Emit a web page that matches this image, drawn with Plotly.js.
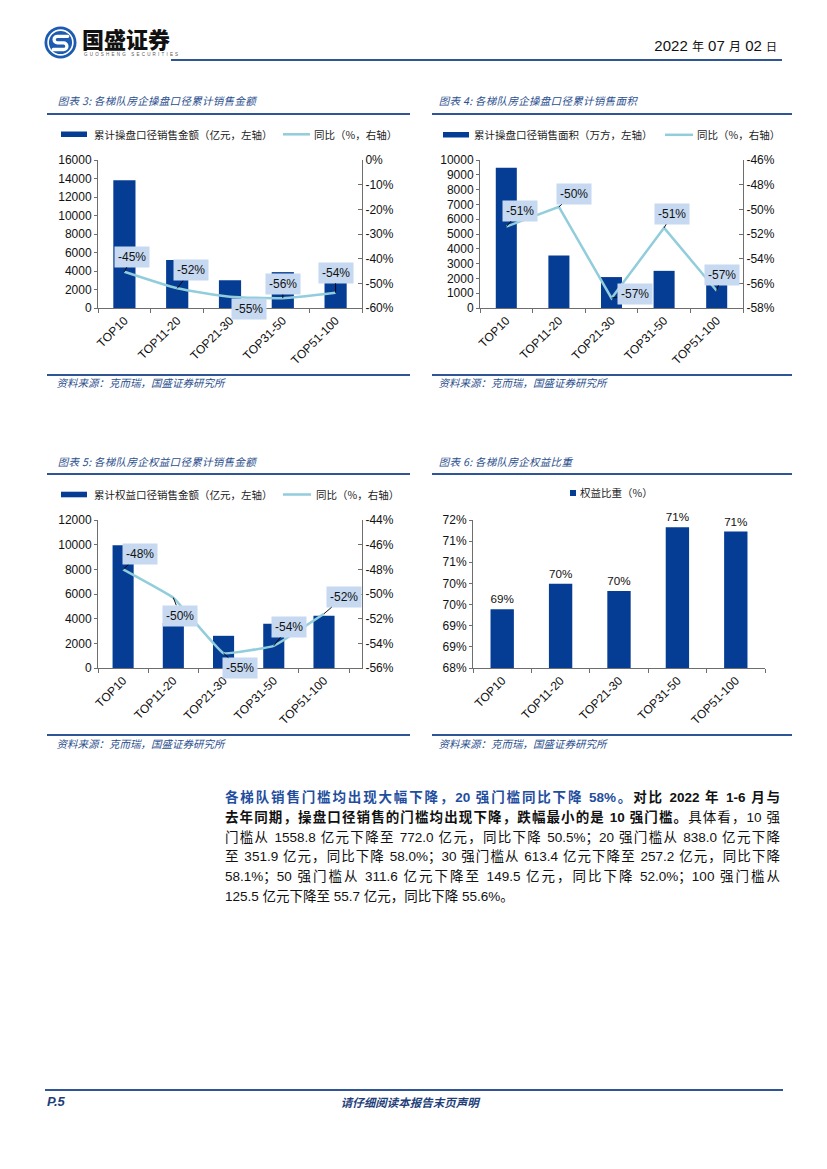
<!DOCTYPE html>
<html><head><meta charset="utf-8">
<script src="https://cdn.plot.ly/plotly-3.0.1.min.js"></script>
<style>
body{margin:0;width:827px;height:1169px;position:relative;background:#fff;overflow:hidden;font-family:"Liberation Sans","Noto Sans CJK SC",sans-serif;}
.abs{position:absolute;}
.ttl{position:absolute;font-family:"Noto Sans CJK SC";font-size:10.5px;line-height:14px;color:#2b4f8e;white-space:nowrap;transform:skewX(-14deg);transform-origin:left bottom;letter-spacing:0.3px;}
.src{position:absolute;font-family:"Noto Sans CJK SC";font-size:10.5px;line-height:13px;color:#2b4f8e;white-space:nowrap;transform:skewX(-14deg);transform-origin:left bottom;}
.hl{position:absolute;height:2px;background:#2f5597;}
.chart{position:absolute;width:370px;height:250px;}
.para{position:absolute;left:225px;top:788px;width:555px;font-size:13.5px;line-height:19.8px;color:#111;font-family:"Liberation Sans","Noto Sans CJK SC";}
.para .ln{text-align:justify;text-align-last:justify;white-space:nowrap;height:19.8px;}
.para .ln.last{text-align-last:left;}
.para b{font-weight:700;}
.blue{color:#1f4e9e;font-weight:700;}
.sk{display:inline-block;transform:skewX(-14deg);}
</style>
</head><body>

<!-- header -->
<svg class="abs" style="left:44px;top:26px" width="33" height="33" viewBox="0 0 32 32">
  <circle cx="16" cy="16" r="15.5" fill="#1d5bb0"/>
  <circle cx="16" cy="16" r="12" fill="none" stroke="#fff" stroke-width="1.6"/>
  <path d="M23 10 H13 a3.2 3.2 0 0 0 0 6.4 H19 a3.2 3.2 0 0 1 0 6.4 H9" stroke="#fff" stroke-width="3.2" fill="none" stroke-linecap="round"/>
</svg>
<div class="abs" style="left:82px;top:26px;font-family:'Noto Sans CJK SC';font-weight:900;font-size:22px;line-height:25px;color:#111;">国盛证券</div>
<div class="abs" style="left:84px;top:52px;font-family:'Liberation Sans';font-size:4.5px;line-height:5px;color:#555;letter-spacing:2.2px;white-space:nowrap;">GUOSHENG SECURITIES</div>
<div class="abs" style="right:50px;top:37px;white-space:nowrap;color:#111;font-family:'Liberation Sans';font-size:15px;line-height:18px;">2022 <span style="font-family:'Noto Sans CJK SC';font-size:12px">年</span> 07 <span style="font-family:'Noto Sans CJK SC';font-size:12px">月</span> 02 <span style="font-family:'Noto Sans CJK SC';font-size:11px">日</span></div>
<div class="hl" style="left:171px;top:59px;width:611px;"></div>

<!-- chart 3 frame -->
<div class="ttl" style="left:57px;top:94px;">图表 3:&nbsp;各梯队房企操盘口径累计销售金额</div>
<div class="hl" style="left:47px;top:113px;width:363px;"></div>
<div class="hl" style="left:47px;top:374px;width:363px;"></div>
<div class="src" style="left:56px;top:376px;">资料来源：克而瑞，国盛证券研究所</div>

<!-- chart 4 frame -->
<div class="ttl" style="left:438px;top:94px;">图表 4:&nbsp;各梯队房企操盘口径累计销售面积</div>
<div class="hl" style="left:432px;top:113px;width:360px;"></div>
<div class="hl" style="left:432px;top:374px;width:360px;"></div>
<div class="src" style="left:438px;top:376px;">资料来源：克而瑞，国盛证券研究所</div>

<!-- chart 5 frame -->
<div class="ttl" style="left:57px;top:455px;">图表 5:&nbsp;各梯队房企权益口径累计销售金额</div>
<div class="hl" style="left:47px;top:473px;width:363px;"></div>
<div class="hl" style="left:47px;top:734px;width:363px;"></div>
<div class="src" style="left:56px;top:737px;">资料来源：克而瑞，国盛证券研究所</div>

<!-- chart 6 frame -->
<div class="ttl" style="left:438px;top:455px;">图表 6:&nbsp;各梯队房企权益比重</div>
<div class="hl" style="left:432px;top:473px;width:360px;"></div>
<div class="hl" style="left:432px;top:734px;width:360px;"></div>
<div class="src" style="left:438px;top:737px;">资料来源：克而瑞，国盛证券研究所</div>

<div id="c3" class="chart" style="left:47px;top:122px;"></div>
<div id="c4" class="chart" style="left:432px;top:122px;"></div>
<div id="c5" class="chart" style="left:47px;top:480px;"></div>
<div id="c6" class="chart" style="left:432px;top:480px;"></div>

<!-- paragraph -->
<div class="para">
  <div class="ln"><span class="blue">各梯队销售门槛均出现大幅下降，20 强门槛同比下降 58%。</span><b>对比 2022 年 1-6 月与</b></div>
  <div class="ln"><b>去年同期，操盘口径销售的门槛均出现下降，跌幅最小的是 10 强门槛。</b>具体看，10 强</div>
  <div class="ln">门槛从 1558.8 亿元下降至 772.0 亿元，同比下降 50.5%；20 强门槛从 838.0 亿元下降</div>
  <div class="ln">至 351.9 亿元，同比下降 58.0%；30 强门槛从 613.4 亿元下降至 257.2 亿元，同比下降</div>
  <div class="ln">58.1%；50 强门槛从 311.6 亿元下降至 149.5 亿元，同比下降 52.0%；100 强门槛从</div>
  <div class="ln last">125.5 亿元下降至 55.7 亿元，同比下降 55.6%。</div>
</div>

<!-- footer -->
<div class="hl" style="left:45px;top:1089px;width:738px;"></div>
<div class="abs" style="left:47px;top:1094px;font-family:'Liberation Sans';font-weight:700;font-style:italic;font-size:13px;line-height:16px;color:#1f3f7a;">P.5</div>
<div class="abs" style="left:0;width:822px;text-align:center;top:1094px;font-family:'Noto Sans CJK SC';font-weight:700;font-size:11.5px;line-height:16px;color:#1f3f7a;"><span class="sk">请仔细阅读本报告末页声明</span></div>

<script>
// ---------------- data ----------------
const categories = ['TOP10', 'TOP11-20', 'TOP21-30', 'TOP31-50', 'TOP51-100'];

const salesAmount    = [13800, 5200, 3000, 3880, 3030];      // 亿元
const salesAmountYoY = [-45.3, -52.0, -55.4, -56.0, -53.8];  // %
const salesAmountName = '累计操盘口径销售金额（亿元，左轴）';

const salesArea    = [9480, 3550, 2090, 2510, 1900];         // 万方
const salesAreaYoY = [-51.4, -49.8, -57.2, -51.5, -56.6];    // %
const salesAreaName = '累计操盘口径销售面积（万方，左轴）';

const equityAmount    = [9950, 3640, 2610, 3580, 4230];      // 亿元
const equityAmountYoY = [-48.0, -50.3, -54.8, -54.2, -51.6]; // %
const equityAmountName = '累计权益口径销售金额（亿元，左轴）';

const yoyName = '同比（%，右轴）';

const equityShare = [69.39, 69.99, 69.82, 71.33, 71.23];     // %
const equityShareName = '权益比重（%）';
const shareTickVals = [68, 68.5, 69, 69.5, 70, 70.5, 71, 71.5];
const shareTickText = ['68%', '69%', '69%', '70%', '70%', '71%', '71%', '72%'];

// ---------------- style ----------------
const BAR = '#063d94';
const LINE = '#92cddc';
const LABELBG = '#c6d9f1';
const AX = '#6e6e6e';
const TICKFONT = {family: 'Liberation Sans', size: 12, color: '#111'};
const LEGFONT = {family: 'Noto Sans CJK SC', size: 10.5, color: '#222'};
const W = 370, H = 250;

function makeConv(left, top, m) {
  const pw = W - m.l - m.r, ph = H - m.t - m.b;
  return {
    x: px => (px - left - m.l) / pw,
    y: py => 1 - (py - top - m.t) / ph
  };
}

function baseX() {
  return {type: 'category', showline: true, linecolor: AX, linewidth: 1, ticks: 'outside',
    tickson: 'boundaries', ticklen: 4, tickcolor: AX, tickangle: -45, tickfont: TICKFONT,
    showgrid: false, zeroline: false, fixedrange: true};
}

function comboChart(id, cfg) {
  const m = cfg.margin;
  const cv = makeConv(cfg.left, cfg.top, m);
  const traces = [
    {type: 'bar', x: categories, y: cfg.bars, name: cfg.barName, marker: {color: BAR},
     showlegend: false, hoverinfo: 'skip'},
    {type: 'scatter', mode: 'lines', x: categories, y: cfg.line, name: yoyName, yaxis: 'y2',
     line: {color: LINE, width: 2.5, shape: cfg.smoothing ? 'spline' : 'linear', smoothing: cfg.smoothing || 0},
     showlegend: false, hoverinfo: 'skip', cliponaxis: false}
  ];
  const annotations = cfg.line.map((v, i) => ({
    x: categories[i], y: v, xref: 'x', yref: 'y2',
    text: Math.round(v) + '%', showarrow: true, arrowhead: 0, arrowwidth: 0.9, arrowcolor: '#000',
    ax: cfg.offsets[i][0], ay: cfg.offsets[i][1], standoff: 0,
    bgcolor: LABELBG, borderpad: 3, font: {family: 'Liberation Sans', size: 12, color: '#111'}
  }));
  const L = cfg.legend;
  const shapes = [
    {type: 'rect', xref: 'paper', yref: 'paper', x0: cv.x(L.bar[0]), x1: cv.x(L.bar[1]),
     y0: cv.y(L.bar[2]), y1: cv.y(L.bar[3]), fillcolor: BAR, line: {width: 0}},
    {type: 'line', xref: 'paper', yref: 'paper', x0: cv.x(L.line[0]), x1: cv.x(L.line[1]),
     y0: cv.y(L.line[2]), y1: cv.y(L.line[2]), line: {color: LINE, width: 2.5}}
  ];
  annotations.push(
    {xref: 'paper', yref: 'paper', x: cv.x(L.barText[0]), y: cv.y(L.barText[1]), xanchor: 'left',
     yanchor: 'middle', showarrow: false, text: cfg.barName, font: LEGFONT},
    {xref: 'paper', yref: 'paper', x: cv.x(L.lineText[0]), y: cv.y(L.lineText[1]), xanchor: 'left',
     yanchor: 'middle', showarrow: false, text: yoyName, font: LEGFONT}
  );
  const [r0, r1, rs] = cfg.rightRange;
  const rv = [];
  for (let v = r0; v <= r1 + 1e-9; v += rs) rv.push(Math.round(v));
  const layout = {
    width: W, height: H, margin: m, paper_bgcolor: 'rgba(0,0,0,0)', plot_bgcolor: 'rgba(0,0,0,0)',
    bargap: cfg.bargap, showlegend: false,
    xaxis: baseX(),
    yaxis: {range: cfg.leftRange, dtick: cfg.leftDtick, tickformat: 'd', showline: true, linecolor: AX,
      ticks: 'outside', ticklen: 3, tickcolor: AX, tickfont: TICKFONT, showgrid: false, zeroline: false, fixedrange: true},
    yaxis2: {overlaying: 'y', side: 'right', range: [r0, r1], tickvals: rv, ticktext: rv.map(v => v + '%'),
      showline: true, linecolor: AX, ticks: 'inside', ticklen: 4, tickcolor: AX, tickfont: TICKFONT,
      showgrid: false, zeroline: false, fixedrange: true},
    annotations, shapes
  };
  Plotly.newPlot(id, traces, layout, {displayModeBar: false, staticPlot: true});
}

comboChart('c3', {
  left: 47, top: 122, margin: {l: 51, r: 55, t: 38, b: 64},
  bars: salesAmount, line: salesAmountYoY, barName: salesAmountName, smoothing: 0.5,
  leftRange: [0, 16000], leftDtick: 2000, rightRange: [-60, 0, 10], bargap: 0.58,
  offsets: [[8, -15], [14, -18], [19, 12], [0, -14], [0, -20]],
  legend: {bar: [61, 87, 131.5, 137], barText: [92, 134.3], line: [283, 310, 134.3], lineText: [312, 134.3]}
});

comboChart('c4', {
  left: 432, top: 122, margin: {l: 48, r: 59, t: 38, b: 64},
  bars: salesArea, line: salesAreaYoY, barName: salesAreaName, smoothing: 0,
  leftRange: [0, 10000], leftDtick: 1000, rightRange: [-58, -46, 2], bargap: 0.6,
  offsets: [[14, -16], [15, -13], [23, -4], [8, -14], [5, -16]],
  legend: {bar: [443, 469, 132, 137.5], barText: [472, 134.8], line: [665, 693, 134.8], lineText: [695, 134.8]}
});

comboChart('c5', {
  left: 47, top: 480, margin: {l: 51, r: 55, t: 40, b: 62},
  bars: equityAmount, line: equityAmountYoY, barName: equityAmountName, smoothing: 0.25,
  leftRange: [0, 12000], leftDtick: 2000, rightRange: [-56, -44, 2], bargap: 0.58,
  offsets: [[17, -15], [7, 18], [16, 15], [15, -19], [20, -17]],
  legend: {bar: [61, 87, 491.7, 497.3], barText: [92, 494.5], line: [283, 311, 494.5], lineText: [314, 494.5]}
});

(function () {
  const left = 432, top = 480, m = {l: 41, r: 37, t: 40, b: 62};
  const cv = makeConv(left, top, m);
  const traces = [{type: 'bar', x: categories, y: equityShare, name: equityShareName,
    marker: {color: BAR}, text: equityShare.map(v => Math.round(v) + '%'), textposition: 'outside',
    textfont: {family: 'Liberation Sans', size: 12.5, color: '#111'}, cliponaxis: false,
    showlegend: false, hoverinfo: 'skip'}];
  const layout = {
    width: W, height: H, margin: m, paper_bgcolor: 'rgba(0,0,0,0)', plot_bgcolor: 'rgba(0,0,0,0)',
    bargap: 0.6, showlegend: false,
    xaxis: baseX(),
    yaxis: {range: [68, 71.5], tickvals: shareTickVals, ticktext: shareTickText, showline: true, linecolor: AX,
      ticks: 'outside', ticklen: 3, tickcolor: AX, tickfont: TICKFONT, showgrid: false, zeroline: false, fixedrange: true},
    shapes: [{type: 'rect', xref: 'paper', yref: 'paper', x0: cv.x(570), x1: cv.x(576), y0: cv.y(490), y1: cv.y(496),
      fillcolor: BAR, line: {width: 0}}],
    annotations: [{xref: 'paper', yref: 'paper', x: cv.x(578), y: cv.y(493), xanchor: 'left', yanchor: 'middle',
      showarrow: false, text: equityShareName, font: LEGFONT}]
  };
  Plotly.newPlot('c6', traces, layout, {displayModeBar: false, staticPlot: true});
})();
</script>
</body></html>
